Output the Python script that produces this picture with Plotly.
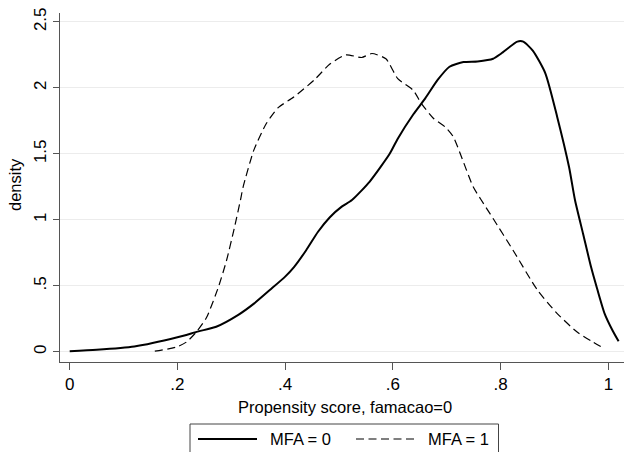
import plotly.graph_objects as go

# MFA = 0 (solid)
x0 = [0.0, 0.05, 0.12, 0.2, 0.239, 0.272, 0.313, 0.342, 0.372, 0.4, 0.416, 0.439, 0.461,
      0.483, 0.505, 0.524, 0.557, 0.594, 0.609, 0.638, 0.66, 0.683, 0.705, 0.731, 0.757,
      0.786, 0.801, 0.831, 0.842, 0.86, 0.883, 0.905, 0.927, 0.938, 0.953, 0.968, 0.979,
      0.993, 1.008, 1.019]
y0 = [0.005, 0.015, 0.04, 0.11, 0.155, 0.19, 0.28, 0.365, 0.47, 0.57, 0.64, 0.77, 0.91,
      1.02, 1.10, 1.15, 1.29, 1.50, 1.615, 1.80, 1.92, 2.06, 2.16, 2.195, 2.20,
      2.22, 2.26, 2.35, 2.35, 2.28, 2.11, 1.78, 1.40, 1.15, 0.895, 0.64, 0.48,
      0.29, 0.16, 0.08]

# MFA = 1 (dashed)
x1 = [0.158, 0.198, 0.217, 0.235, 0.254, 0.276, 0.291, 0.306, 0.317, 0.322, 0.342, 0.365,
      0.387, 0.416, 0.454, 0.483, 0.513, 0.542, 0.561, 0.587, 0.609, 0.638, 0.653, 0.675,
      0.698, 0.712, 0.727, 0.749, 0.764, 0.786, 0.823, 0.868, 0.905, 0.942, 0.971, 0.99]
y1 = [0.005, 0.036, 0.075, 0.15, 0.26, 0.49, 0.69, 0.945, 1.15, 1.25, 1.53, 1.73,
      1.85, 1.93, 2.06, 2.18, 2.25, 2.23, 2.26, 2.22, 2.07, 1.98, 1.88, 1.77,
      1.70, 1.63, 1.48, 1.25, 1.15, 1.01, 0.77, 0.47, 0.29, 0.15, 0.075, 0.03]

series_names = ["MFA = 0", "MFA = 1"]
x_title = "Propensity score, famacao=0"
y_title = "density"
x_tick_vals = [0, 0.2, 0.4, 0.6, 0.8, 1.0]
x_tick_text = ["0", ".2", ".4", ".6", ".8", "1"]
y_tick_vals = [0, 0.5, 1, 1.5, 2, 2.5]
y_tick_text = ["0", ".5", "1", "1.5", "2", "2.5"]

W, H = 624, 452
ML, MR, MT, MB = 60, 0, 13, 90
PW, PH = W - ML - MR, H - MT - MB


def px(xp):
    return (xp - ML) / PW


def py(yp):
    return (H - MB - yp) / PH


font_family = "Liberation Sans, Arial, Helvetica, sans-serif"
DASH = "8px,4.5px"

fig = go.Figure()
fig.add_trace(go.Scatter(x=x0, y=y0, mode="lines", name=series_names[0],
                         line=dict(color="black", width=2, shape="spline", smoothing=0.6)))
fig.add_trace(go.Scatter(x=x1, y=y1, mode="lines", name=series_names[1],
                         line=dict(color="black", width=1.2, dash=DASH, shape="spline", smoothing=0.6)))

shapes = [
    # legend box
    dict(type="rect", xref="paper", yref="paper", x0=px(190), x1=px(498.5), y0=py(424), y1=py(470),
         line=dict(color="#444444", width=1), fillcolor="white", layer="above"),
    dict(type="line", xref="paper", yref="paper", x0=px(198), x1=px(257), y0=py(439), y1=py(439),
         line=dict(color="black", width=2)),
    dict(type="line", xref="paper", yref="paper", x0=px(356), x1=px(417), y0=py(439), y1=py(439),
         line=dict(color="black", width=1.2, dash=DASH)),
]

annotations = [
    dict(text=series_names[0], xref="paper", yref="paper", x=px(268), y=py(439),
         xanchor="left", yanchor="middle", showarrow=False, font=dict(size=16.5)),
    dict(text=series_names[1], xref="paper", yref="paper", x=px(426), y=py(439),
         xanchor="left", yanchor="middle", showarrow=False, font=dict(size=16.5)),
    dict(text=x_title, xref="paper", yref="paper", x=px(345), y=py(407),
         xanchor="center", yanchor="middle", showarrow=False, font=dict(size=16.5)),
    dict(text=y_title, xref="paper", yref="paper", x=px(15), y=py(185), textangle=-90,
         xanchor="center", yanchor="middle", showarrow=False, font=dict(size=16.5)),
]

fig.update_layout(
    width=W, height=H,
    margin=dict(l=ML, r=MR, t=MT, b=MB),
    paper_bgcolor="white", plot_bgcolor="white",
    font=dict(family=font_family, size=17, color="black"),
    showlegend=False,
    hovermode=False,
    shapes=shapes,
    annotations=annotations,
    xaxis=dict(range=[-0.018, 1.029], tickvals=x_tick_vals, ticktext=x_tick_text,
               showgrid=False, zeroline=False, showline=True, linecolor="#555555", linewidth=1,
               ticks="outside", ticklen=7, tickcolor="#555555", automargin=False,
               tickfont=dict(size=17)),
    yaxis=dict(range=[-0.077, 2.567], tickvals=y_tick_vals, ticktext=y_tick_text,
               tickangle=-90, showgrid=True, gridcolor="#ececec", gridwidth=1,
               zeroline=False, showline=True, linecolor="#555555", linewidth=1,
               ticks="outside", ticklen=6, tickcolor="#555555", automargin=False,
               tickfont=dict(size=17)),
)

fig.write_html(
    "out.html",
    config={"displayModeBar": False, "staticPlot": True},
    post_script="document.body.style.margin='0';document.body.style.overflow='hidden';",
)
